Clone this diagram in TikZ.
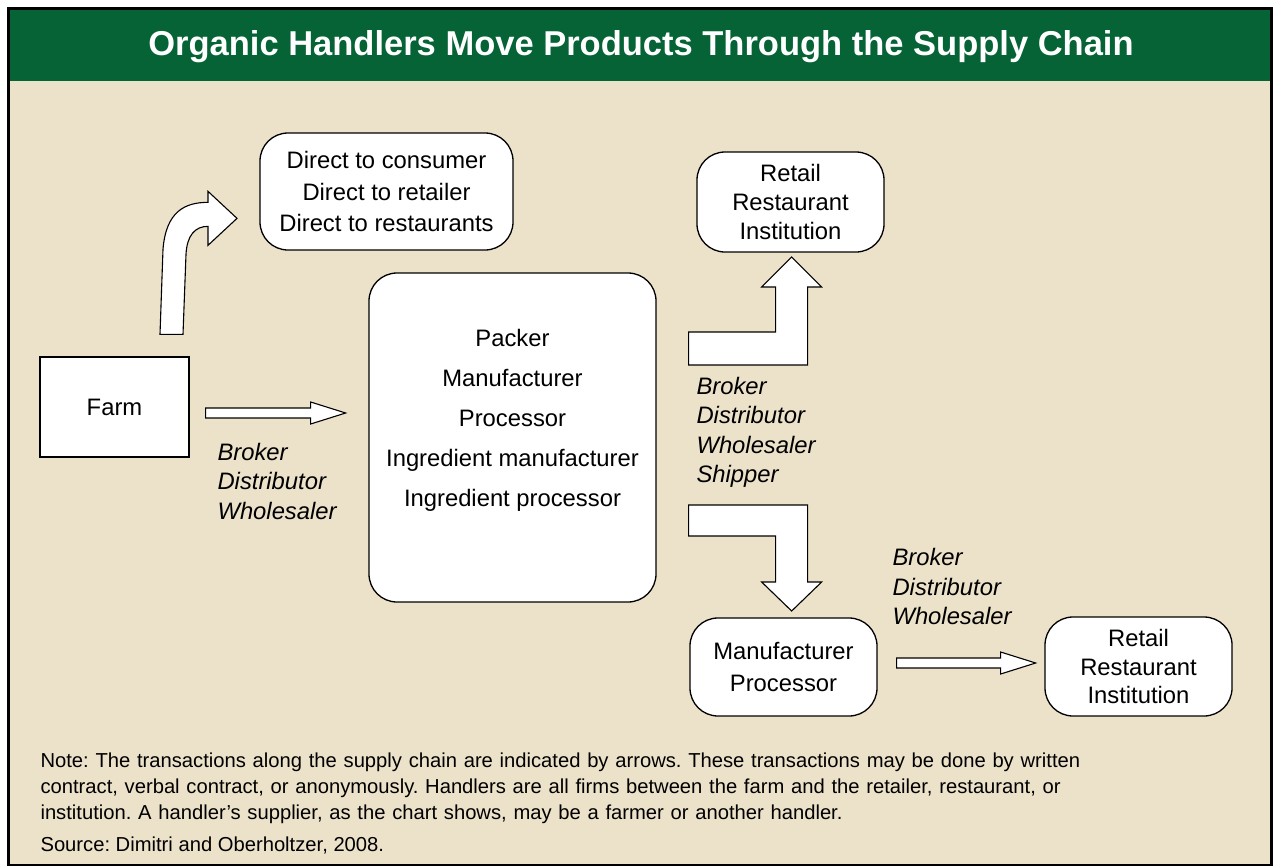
\documentclass[tikz,border=0pt]{standalone}
\usepackage{fontspec}
\setmainfont{Liberation Sans}
\usepackage{xcolor}
\usepackage{tikz}
\usetikzlibrary{positioning,calc}

\definecolor{bandgreen}{HTML}{056335}
\definecolor{panelbeige}{HTML}{ECE1C9}

% block arrow pointing right, shaft length #2, from #1
\newcommand{\blockright}[2]{%
  \draw[blockarrow] #1 ++(0,-5) -- ++(#2,0) -- ++(0,-6) -- ++(35,11)
    -- ++(-35,11) -- ++(0,-6) -- ++(-#2,0) -- cycle;}

\begin{document}
\frenchspacing
\begin{tikzpicture}[
  x=1pt,y=-1pt,
  roundbox/.style={draw,line width=1.3pt,fill=white,rounded corners=28pt,
                   align=center,inner sep=0pt},
  farmbox/.style={draw,line width=1.3pt,fill=white,align=center,inner sep=0pt,
                  minimum width=149pt,minimum height=100pt},
  boxtext/.style={align=center,font=\fontsize{23.8}{31}\selectfont},
  lbl/.style={align=left,anchor=west,font=\fontsize{23.8}{29.5}\selectfont\itshape},
  blockarrow/.style={draw,line width=1.1pt,fill=white,line join=miter}
]
\useasboundingbox (0,0) rectangle (1274,867);
\fill[white] (0,0) rectangle (1274,867);
% frame, title band and panel
\fill[panelbeige] (8.5,81) rectangle (1271.5,865);
\fill[bandgreen] (8.5,8.5) rectangle (1271.5,81);
\draw[line width=2.6pt] (8.5,8.5) rectangle (1271.5,865);
\node[font=\fontsize{34.5}{40}\selectfont\bfseries,text=white] (title) at (641,47)
  {Organic Handlers Move Products Through the Supply Chain};

% boxes
\node[farmbox,font=\fontsize{23.8}{31}\selectfont] (farm) at (114.5,407) {Farm};
\node[roundbox,minimum width=253pt,minimum height=117pt,
      font=\fontsize{23.8}{31.5}\selectfont] (direct) at (386.5,191.5)
  {Direct to consumer\\Direct to retailer\\Direct to restaurants};
\node[roundbox,minimum width=287pt,minimum height=329pt] (handler) at (512.5,437.5) {};
\node[boxtext,font=\fontsize{23.8}{40}\selectfont] (handlertext) at (512.5,420)
  {Packer\\Manufacturer\\Processor\\Ingredient manufacturer\\Ingredient processor};
\node[roundbox,minimum width=187pt,minimum height=100pt,
      font=\fontsize{23.8}{29}\selectfont] (retailtop) at (790.5,202)
  {Retail\\Restaurant\\Institution};
\node[roundbox,minimum width=187pt,minimum height=98pt,
      font=\fontsize{23.8}{32}\selectfont] (manproc) at (783.5,667)
  {Manufacturer\\Processor};
\node[roundbox,minimum width=187pt,minimum height=99pt,
      font=\fontsize{23.8}{28.5}\selectfont] (retailbot) at (1138.5,666.5)
  {Retail\\Restaurant\\Institution};

% block arrows
\coordinate (farmout) at ($(farm.east)+(16,6)$);
\blockright{(farmout)}{105}
\coordinate (manout) at ($(manproc.east)+(19,-4)$);
\blockright{(manout)}{104}

\coordinate (curvebase) at ($(farm.north)+(45.5,-22)$);
\begin{scope}[shift={(curvebase)}]
\draw[blockarrow] (0,0) -- (3,-85) .. controls (6,-123) and (25,-132) .. (48,-132)
  -- (48,-143) -- (77,-116) -- (48,-89) -- (48,-108)
  .. controls (35,-108) and (27,-99) .. (26,-80) -- (23,0) -- cycle;
\end{scope}

\coordinate (upbase) at ($(handler.east)+(32,-105.5)$);
\begin{scope}[shift={(upbase)}]
\draw[blockarrow] (0,0) -- (87,0) -- (87,-45) -- (73,-45) -- (103,-75)
  -- (133,-45) -- (119,-45) -- (119,33) -- (0,33) -- cycle;
\end{scope}

\coordinate (downbase) at ($(handler.east)+(32,67.5)$);
\begin{scope}[shift={(downbase)}]
\draw[blockarrow] (0,0) -- (119,0) -- (119,77) -- (133,77) -- (103,106)
  -- (73,77) -- (87,77) -- (87,31) -- (0,31) -- cycle;
\end{scope}

% transaction labels
\node[lbl] (farmlbl) at (214,481) {Broker\\Distributor\\Wholesaler};
\node[lbl] (handlerlbl) at (693,432.5) {Broker\\Distributor\\Wholesaler\\Shipper};
\node[lbl] (manlbl) at (889,586.5) {Broker\\Distributor\\Wholesaler};

% note
\node[align=left,anchor=north west,font=\fontsize{20.2}{26}\selectfont,
      text width=1220pt] (note) at (37,749)
  {Note: The transactions along the supply chain are indicated by arrows. These transactions may be done by written\\
   contract, verbal contract, or anonymously. Handlers are all firms between the farm and the retailer, restaurant, or\\
   institution. A handler’s supplier, as the chart shows, may be a farmer or another handler.};
\node[align=left,anchor=west,font=\fontsize{20.2}{26}\selectfont] (source) at (37,845)
  {Source: Dimitri and Oberholtzer, 2008.};
\end{tikzpicture}
\end{document}
